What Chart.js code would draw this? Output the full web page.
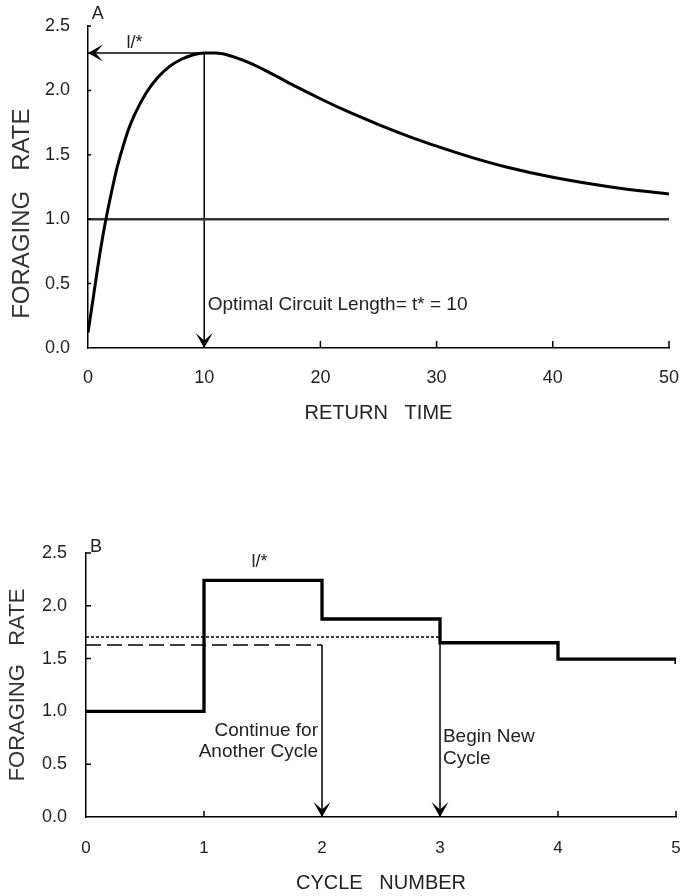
<!DOCTYPE html>
<html>
<head>
<meta charset="utf-8">
<title>Foraging rate</title>
<script src="https://cdn.jsdelivr.net/npm/chart.js@4.4.0/dist/chart.umd.min.js"></script>
<style>
    html, body { margin: 0; padding: 0; background: #fff; }
    body { width: 680px; height: 896px; position: relative; overflow: hidden; }
    .panel { position: absolute; left: 0; width: 680px; }
    #panelA { top: 0; height: 430px; }
    #panelB { top: 500px; height: 396px; }
</style>
</head>
<body>
<div class="panel" id="panelA"><canvas id="chartA" width="680" height="430"></canvas></div>
<div class="panel" id="panelB"><canvas id="chartB" width="680" height="396"></canvas></div>
<script>
// Panel A: foraging rate against return time
const returnTimes = [0, 0.5, 1, 1.5, 2, 2.5, 3, 3.5, 4, 5, 6, 7, 8, 9, 10, 11, 12, 14, 16, 18, 20, 22, 25, 28, 30, 33, 36, 40, 45, 50];
const foragingRates = [0.12, 0.42, 0.72, 0.98, 1.2, 1.4, 1.56, 1.7, 1.81, 1.98, 2.1, 2.185, 2.24, 2.275, 2.29, 2.29, 2.275, 2.21, 2.12, 2.025, 1.935, 1.85, 1.735, 1.63, 1.567, 1.48, 1.405, 1.325, 1.25, 1.195];
const baselineRate = 1.0;
const optimalTime = 10;
const optimalRate = 2.29;
const returnTicks = [0, 10, 20, 30, 40, 50];

// Panel B: foraging rate per cycle
const cycleNumbers = [0, 1, 2, 3, 4, 5, 5];
const cycleRates = [1.0, 2.24, 1.875, 1.65, 1.495, 1.495, 1.45];
const dottedRate = 1.705;   // runs to cycle 3
const dashedRate = 1.628;   // runs to cycle 2
const cycleTicks = [0, 1, 2, 3, 4, 5];
const rateTicks = [0, 0.5, 1.0, 1.5, 2.0, 2.5];

const FONT = '"Liberation Sans", Arial, sans-serif';
const TEXT_COLOR = '#222';

function xy(xs, ys) {
    return xs.map((x, i) => ({ x: x, y: ys[i] }));
}

// Filled arrow head with a notch, tip at (px, py)
function drawArrowHead(ctx, px, py, dir) {
    const len = 15, half = 8.5;
    ctx.save();
    ctx.translate(px, py);
    if (dir === 'left') ctx.rotate(Math.PI / 2);
    ctx.beginPath();
    ctx.moveTo(0, 0);
    ctx.lineTo(-half, -len);
    ctx.lineTo(0, -len * 0.5);
    ctx.lineTo(half, -len);
    ctx.closePath();
    ctx.fillStyle = '#000';
    ctx.fill();
    ctx.restore();
}

// Tick marks drawn inside the plot, like the original
const insideTicks = {
    id: 'insideTicks',
    afterDatasetsDraw(chart, args, opts) {
        const { ctx, chartArea, scales: { x, y } } = chart;
        ctx.save();
        ctx.strokeStyle = '#000';
        ctx.lineWidth = 1.5;
        ctx.beginPath();
        x.ticks.forEach(t => {
            if (t.value === x.min) return;
            const px = x.getPixelForValue(t.value);
            ctx.moveTo(px, chartArea.bottom);
            ctx.lineTo(px, chartArea.bottom - opts.xLen);
        });
        y.ticks.forEach(t => {
            if (t.value === y.min) return;
            const py = y.getPixelForValue(t.value);
            ctx.moveTo(chartArea.left, py);
            ctx.lineTo(chartArea.left + opts.yLen, py);
        });
        ctx.stroke();
        ctx.restore();
    }
};

// Arrow heads and text notes, placed in data units
const notes = {
    id: 'notes',
    afterDraw(chart, args, opts) {
        const { ctx, scales: { x, y } } = chart;
        (opts.arrows || []).forEach(a => {
            drawArrowHead(ctx, x.getPixelForValue(a.x), y.getPixelForValue(a.y), a.dir);
        });
        ctx.save();
        ctx.fillStyle = TEXT_COLOR;
        ctx.textBaseline = 'middle';
        (opts.labels || []).forEach(l => {
            ctx.font = l.size + 'px ' + FONT;
            ctx.textAlign = l.align || 'left';
            ctx.fillText(l.text, x.getPixelForValue(l.x), y.getPixelForValue(l.y));
        });
        ctx.restore();
    }
};

function lineSet(data, width, color, dash) {
    return {
        data: data,
        borderColor: color || '#000',
        borderWidth: width,
        borderDash: dash || [],
        pointRadius: 0,
        fill: false
    };
}

function axisOptions(cfg) {
    return {
        x: {
            type: 'linear',
            min: cfg.xTicks[0],
            max: cfg.xTicks[cfg.xTicks.length - 1],
            afterBuildTicks: s => { s.ticks = cfg.xTicks.map(v => ({ value: v })); },
            afterFit: s => { s.height = cfg.xHeight; s.paddingLeft = 0; s.paddingRight = 0; },
            grid: { display: false, drawTicks: false },
            border: { display: true, color: '#000', width: 1.5 },
            ticks: { color: TEXT_COLOR, padding: cfg.xPad, maxRotation: 0, font: { family: FONT, size: cfg.xTickSize } },
            title: { display: true, text: cfg.xTitle, color: TEXT_COLOR, padding: { top: 0, bottom: cfg.xTitlePad }, font: { family: FONT, size: 20 } }
        },
        y: {
            type: 'linear',
            min: 0,
            max: 2.5,
            afterBuildTicks: s => { s.ticks = rateTicks.map(v => ({ value: v })); },
            afterFit: s => { s.width = cfg.yWidth; s.paddingTop = 0; s.paddingBottom = 0; },
            grid: { display: false, drawTicks: false },
            border: { display: true, color: '#000', width: 1.5 },
            ticks: { color: TEXT_COLOR, padding: cfg.yPad, font: { family: FONT, size: 18 }, callback: v => v.toFixed(1) },
            title: { display: true, text: cfg.yTitle, color: '#333', padding: { top: cfg.yTitlePad, bottom: 0 }, font: { family: FONT, size: cfg.yTitleSize } }
        }
    };
}

// Top chart
function renderChartA() {
    const lastTime = returnTimes[returnTimes.length - 1];
    new Chart(document.getElementById('chartA'), {
        type: 'line',
        data: {
            datasets: [
                Object.assign(lineSet(xy(returnTimes, foragingRates), 3), { cubicInterpolationMode: 'monotone' }),
                lineSet([{ x: 0, y: baselineRate }, { x: lastTime, y: baselineRate }], 2.5, '#333'),
                lineSet([{ x: optimalTime, y: optimalRate }, { x: 0, y: optimalRate }], 1.5),
                lineSet([{ x: optimalTime, y: optimalRate }, { x: optimalTime, y: 0 }], 1.5)
            ]
        },
        options: {
            responsive: false,
            animation: false,
            layout: { padding: { left: 0, right: 11, top: 26, bottom: 0 } },
            plugins: {
                legend: { display: false },
                tooltip: { enabled: false },
                insideTicks: { xLen: 7, yLen: 3 },
                notes: {
                    arrows: [
                        { x: 0, y: optimalRate, dir: 'left' },
                        { x: optimalTime, y: 0, dir: 'down' }
                    ],
                    labels: [
                        { x: 0.85, y: 2.59, text: 'A', size: 18, align: 'center' },
                        { x: 4.0, y: 2.37, text: 'l/*', size: 18, align: 'center' },
                        { x: 10.3, y: 0.333, text: 'Optimal Circuit Length= t* = 10', size: 19 }
                    ]
                }
            },
            // trailing spaces push the rotated title a little lower, as in the original
            scales: axisOptions({
                xTicks: returnTicks, xHeight: 82, xPad: 19, xTickSize: 18,
                xTitle: 'RETURN   TIME', xTitlePad: 5, yWidth: 88, yPad: 18, yTitlePad: 8,
                yTitle: 'FORAGING   RATE        ', yTitleSize: 24
            })
        },
        plugins: [insideTicks, notes]
    });
}

// Bottom chart
function renderChartB() {
    new Chart(document.getElementById('chartB'), {
        type: 'line',
        data: {
            datasets: [
                Object.assign(lineSet(xy(cycleNumbers, cycleRates), 3.3), { stepped: 'before' }),
                lineSet([{ x: 0, y: dottedRate }, { x: 3, y: dottedRate }], 1.5, '#000', [3, 2]),
                lineSet([{ x: 0, y: dashedRate }, { x: 2, y: dashedRate }], 1.5, '#000', [15, 6]),
                lineSet([{ x: 2, y: dashedRate }, { x: 2, y: 0 }], 1.5),
                lineSet([{ x: 3, y: dottedRate }, { x: 3, y: 0 }], 1.5)
            ]
        },
        options: {
            responsive: false,
            animation: false,
            layout: { padding: { left: 0, right: 4, top: 53, bottom: 0 } },
            plugins: {
                legend: { display: false },
                tooltip: { enabled: false },
                insideTicks: { xLen: 6, yLen: 5 },
                notes: {
                    arrows: [
                        { x: 2, y: 0, dir: 'down' },
                        { x: 3, y: 0, dir: 'down' }
                    ],
                    labels: [
                        { x: 0.085, y: 2.56, text: 'B', size: 18, align: 'center' },
                        { x: 1.47, y: 2.41, text: 'l/*', size: 18, align: 'center' },
                        { x: 1.966, y: 0.82, text: 'Continue for', size: 19, align: 'right' },
                        { x: 1.966, y: 0.615, text: 'Another Cycle', size: 19, align: 'right' },
                        { x: 3.025, y: 0.757, text: 'Begin New', size: 19 },
                        { x: 3.025, y: 0.55, text: 'Cycle', size: 19 }
                    ]
                }
            },
            scales: axisOptions({
                xTicks: cycleTicks, xHeight: 79, xPad: 21, xTickSize: 17,
                xTitle: 'CYCLE   NUMBER', xTitlePad: 1, yWidth: 86, yPad: 19, yTitlePad: 5,
                yTitle: 'FORAGING   RATE', yTitleSize: 22
            })
        },
        plugins: [insideTicks, notes]
    });
}

document.addEventListener('DOMContentLoaded', () => {
    renderChartA();
    renderChartB();
});
</script>
</body>
</html>
